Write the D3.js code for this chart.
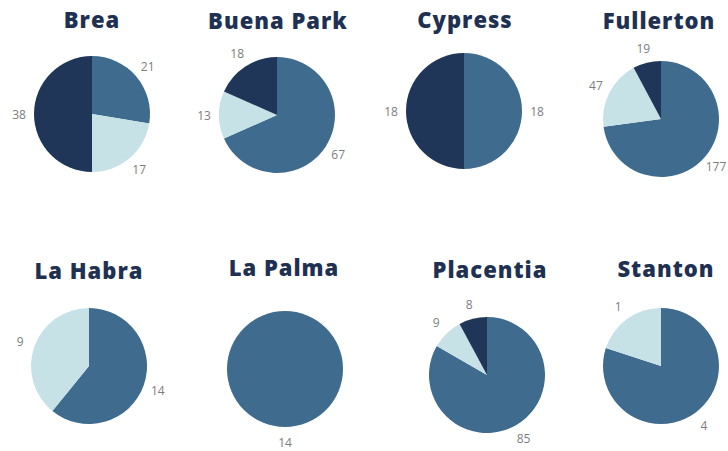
<!DOCTYPE html>
<html>
<head>
<meta charset="utf-8">
<script src="https://cdn.jsdelivr.net/npm/d3@7"></script>
<style>
  html, body { margin: 0; padding: 0; background: #ffffff; }
  svg { display: block; }
</style>
</head>
<body>
<svg id="chart" width="728" height="451"></svg>
<script>
// ---- Data ----
const cities = ["Brea", "Buena Park", "Cypress", "Fullerton", "La Habra", "La Palma", "Placentia", "Stanton"];
const seriesNames = ["Series A", "Series B", "Series C"];
const seriesAValues = [21, 67, 18, 177, 14, 14, 85, 4];   // medium blue
const seriesBValues = [17, 13, 0, 47, 9, 0, 9, 1];        // light
const seriesCValues = [38, 18, 18, 19, 0, 0, 8, 0];       // dark navy

// ---- Layout / style (not data) ----
const width = 728, height = 451;
const colors = ["#3e6b8e", "#c6e2e6", "#1f3658"];
const radius = 58;
const labelRadius = radius + 15;
const pieCX = [92, 277, 464, 661, 89, 285, 487, 661];
const pieCY = [114, 115, 111, 119, 366, 369, 375, 366];
const titleX = [92, 278, 465, 659, 89, 284, 490, 666];
const titleY = [28, 29, 28, 29, 279, 276, 278, 277];

const svg = d3.select("#chart");
const color = d3.scaleOrdinal().domain(seriesNames).range(colors);

const pie = d3.pie().sort(null).value(d => d.value);
const arc = d3.arc().innerRadius(0).outerRadius(radius);
const labelArc = d3.arc().innerRadius(labelRadius).outerRadius(labelRadius);

cities.forEach((city, i) => {
  const cx = pieCX[i], cy = pieCY[i];
  const data = seriesNames.map((s, k) => ({
    series: s,
    value: [seriesAValues, seriesBValues, seriesCValues][k][i]
  })).filter(d => d.value > 0);

  svg.append("text")
    .attr("x", titleX[i])
    .attr("y", titleY[i])
    .attr("text-anchor", "middle")
    .attr("font-family", "'Open Sans', sans-serif")
    .attr("font-weight", 800)
    .attr("font-size", 22)
    .attr("letter-spacing", "1px")
    .attr("fill", "#1f3152")
    .text(city);

  const g = svg.append("g").attr("transform", `translate(${cx},${cy})`);
  const arcs = pie(data);

  g.selectAll("path")
    .data(arcs)
    .join("path")
    .attr("d", arc)
    .attr("fill", d => color(d.data.series));

  g.selectAll("text.lbl")
    .data(arcs)
    .join("text")
    .attr("class", "lbl")
    .attr("transform", d => {
      const [x, y] = labelArc.centroid(d);
      return `translate(${x},${y})`;
    })
    .attr("text-anchor", "middle")
    .attr("dominant-baseline", "central")
    .attr("font-family", "'Open Sans', sans-serif")
    .attr("font-size", 12)
    .attr("fill", "#7d7d7d")
    .text(d => d.data.value);
});
</script>
</body>
</html>
